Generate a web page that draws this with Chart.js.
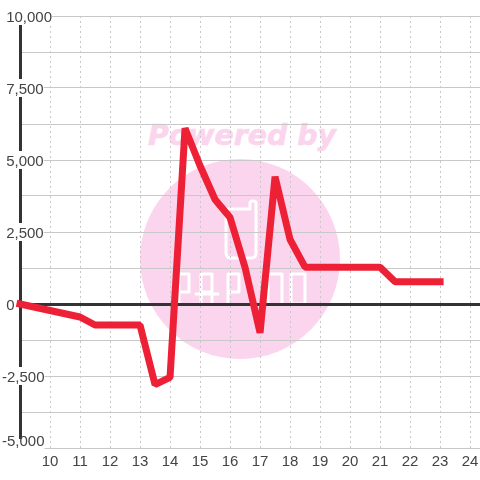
<!DOCTYPE html>
<html>
<head>
<meta charset="utf-8">
<title>Chart</title>
<script src="https://cdn.jsdelivr.net/npm/chart.js@4/dist/chart.umd.min.js"></script>
<style>
  body { margin: 0; background: #fff; }
  #wrap { position: relative; width: 480px; height: 480px; overflow: hidden; }
  #wrap svg, #wrap canvas { position: absolute; left: 0; top: 0; }
</style>
</head>
<body>
<div id="wrap">
  <!-- watermark sits behind the transparent canvas -->
  <svg width="480" height="480" viewBox="0 0 480 480">
    <text x="148" y="145" font-family="DejaVu Sans" font-weight="bold" font-style="italic" font-size="28.4" fill="#fbd5ee" stroke="#fbd5ee" stroke-width="0.6">Powered by</text>
    <circle cx="240" cy="259" r="100" fill="#fbd5ee"/>
    <g fill="none" stroke="#fff" stroke-width="3" stroke-linejoin="round" stroke-linecap="round">
      <path d="M226 209 H250 V203 Q250 201 253 201 Q256 201 256 203 V253 Q256 258 251 258 H231 Q226 258 226 253 Z"/>
      <path d="M179 304 V274 H189 V292 H179"/>
      <path d="M201 304 V274 H212 V292 H201 M196 294 H218 M212 292 V304"/>
      <path d="M228 304 V274 H239 V292 H228"/>
      <path d="M268 304 V274 H282 V304"/>
      <path d="M291 304 V274 H305 V304 H291"/>
    </g>
  </svg>
  <canvas id="chart" width="480" height="480"></canvas>
</div>
<script>
const xValues = [9, 11, 11.5, 13, 13.5, 14, 14.5, 15, 15.5, 16, 16.5, 17, 17.5, 18, 18.5, 21, 21.5, 23];
const seriesValues = [0, -450, -730, -730, -2800, -2550, 6100, 4800, 3630, 3000, 1270, -1000, 4420, 2240, 1280, 1280, 770, 770];

const textColor = "#444";
const gridColor = "#c8c8c8";
const axisColor = "#333";

const isLabelled = (v) => v % 2500 === 0;

// nudge the y labels: the bottom one sits above its grid line
const labelNudge = {
  id: "labelNudge",
  beforeDraw(chart) {
    const scale = chart.scales.y;
    scale.getLabelItems().forEach((item, i) => {
      item.textOffset = scale.ticks[i].value === -5000 ? -6 : 1.5;
    });
  },
};

new Chart("chart", {
  type: "line",
  plugins: [labelNudge],
  data: {
    datasets: [
      {
        data: xValues.map((x, i) => ({ x: x, y: seriesValues[i] })),
        borderColor: "#ee2036",
        borderWidth: 7,
        borderCapStyle: "square",
        borderJoinStyle: "bevel",
        pointRadius: 0,
        tension: 0,
        clip: false,
      },
    ],
  },
  options: {
    responsive: false,
    animation: false,
    layout: { autoPadding: false, padding: { top: 16 } },
    plugins: {
      legend: { display: false },
      tooltip: { enabled: false },
    },
    scales: {
      x: {
        type: "linear",
        min: 9,
        max: 24.33,
        afterFit: (scale) => {
          scale.height = 32;
          // no room kept for the last label, grid runs to the canvas edge
          scale.paddingLeft = 0;
          scale.paddingRight = 0;
        },
        grid: { color: gridColor, lineWidth: 1, drawTicks: false },
        border: { display: false, dash: [2, 3] },
        ticks: {
          stepSize: 1,
          includeBounds: false,
          autoSkip: false,
          maxRotation: 0,
          padding: 5,
          color: textColor,
          font: { family: "Liberation Sans", size: 15 },
          callback: (v) => (v === 9 ? "" : String(v)),
        },
      },
      y: {
        min: -5000,
        max: 10000,
        afterFit: (scale) => {
          scale.width = 20;
        },
        grid: {
          drawTicks: false,
          color: (ctx) => (ctx.tick.value === 0 ? axisColor : gridColor),
          lineWidth: (ctx) => (ctx.tick.value === 0 ? 3 : 1),
        },
        border: { color: axisColor, width: 3 },
        ticks: {
          stepSize: 1250,
          autoSkip: false,
          mirror: true,
          crossAlign: "near",
          padding: -18,
          color: textColor,
          font: { family: "Liberation Sans", size: 15 },
          showLabelBackdrop: (ctx) => isLabelled(ctx.tick.value),
          backdropColor: "#fff",
          backdropPadding: (ctx) =>
            ctx.tick.value === -5000
              ? { top: 5, bottom: 0, left: 0, right: 2 }
              : { top: -5, bottom: -1, left: 0, right: 2 },
          callback: (v) => {
            if (!isLabelled(v)) return "";
            const label = v.toLocaleString("en-US");
            return v < 0 ? label : " " + label;
          },
        },
      },
    },
  },
});
</script>
</body>
</html>
